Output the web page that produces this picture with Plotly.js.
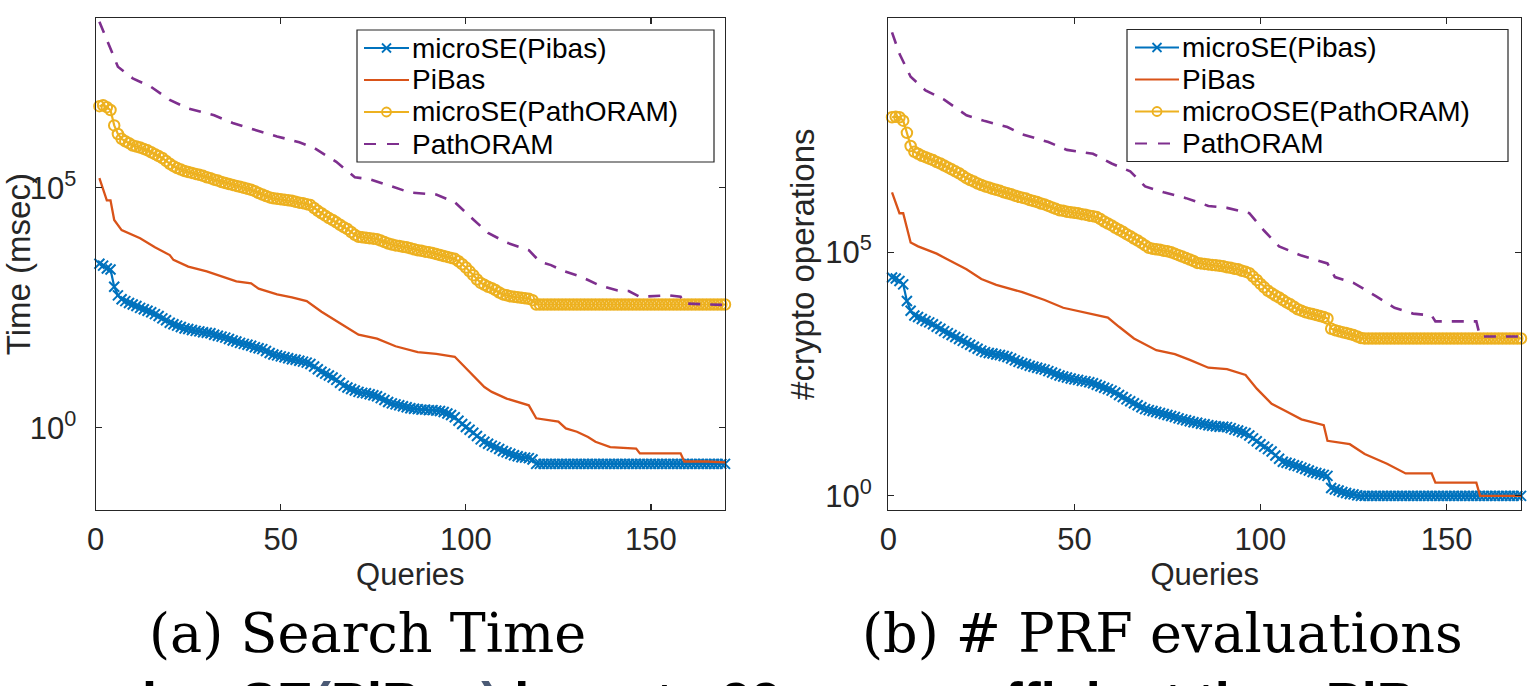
<!DOCTYPE html>
<html>
<head>
<meta charset="utf-8">
<script src="https://cdn.plot.ly/plotly-3.0.1.min.js"></script>
<style>
html,body{margin:0;padding:0;background:#ffffff;overflow:hidden;}
#chart{width:1532px;height:686px;}
</style>
</head>
<body>
<div id="chart"></div>
<script>
// ---------------- DATA ----------------
// Query index (x) for the per-query series
const queries = [
  1,2,3,4,5,6,7,8,9,10, 11,12,13,14,15,16,17,18,19,20,
  21,22,23,24,25,26,27,28,29,30, 31,32,33,34,35,36,37,38,39,40,
  41,42,43,44,45,46,47,48,49,50, 51,52,53,54,55,56,57,58,59,60,
  61,62,63,64,65,66,67,68,69,70, 71,72,73,74,75,76,77,78,79,80,
  81,82,83,84,85,86,87,88,89,90, 91,92,93,94,95,96,97,98,99,100,
  101,102,103,104,105,106,107,108,109,110, 111,112,113,114,115,116,117,118,119,120,
  121,122,123,124,125,126,127,128,129,130, 131,132,133,134,135,136,137,138,139,140,
  141,142,143,144,145,146,147,148,149,150, 151,152,153,154,155,156,157,158,159,160,
  161,162,163,164,165,166,167,168,169,170
];

// (a) Search time, values stored as log10(msec)
const timeMicroSEPibasLog10 = [
  3.42,3.38,3.32,3.30,2.94,2.76,2.68,2.64,2.60,2.57,
  2.54,2.50,2.47,2.44,2.41,2.37,2.33,2.28,2.24,2.19,
  2.16,2.13,2.10,2.07,2.06,2.04,2.02,2.01,1.99,1.98,
  1.97,1.94,1.92,1.90,1.88,1.85,1.82,1.80,1.77,1.75,
  1.73,1.71,1.68,1.66,1.64,1.60,1.56,1.53,1.51,1.49,
  1.47,1.45,1.43,1.42,1.40,1.38,1.36,1.33,1.28,1.22,
  1.17,1.13,1.09,1.05,1.00,0.94,0.88,0.84,0.81,0.78,
  0.75,0.73,0.72,0.70,0.68,0.66,0.62,0.58,0.54,0.51,
  0.49,0.47,0.45,0.43,0.41,0.40,0.39,0.38,0.38,0.37,
  0.37,0.36,0.35,0.33,0.30,0.27,0.22,0.15,0.08,0.02,
  -0.04,-0.10,-0.17,-0.24,-0.29,-0.33,-0.37,-0.40,-0.44,-0.48,
  -0.51,-0.54,-0.57,-0.59,-0.61,-0.62,-0.63,-0.66,-0.75,-0.75,
  -0.75,-0.75,-0.75,-0.75,-0.75,-0.75,-0.75,-0.75,-0.75,-0.75,
  -0.75,-0.75,-0.75,-0.75,-0.75,-0.75,-0.75,-0.75,-0.75,-0.75,
  -0.75,-0.75,-0.75,-0.75,-0.75,-0.75,-0.75,-0.75,-0.75,-0.75,
  -0.75,-0.75,-0.75,-0.75,-0.75,-0.75,-0.75,-0.75,-0.75,-0.75,
  -0.75,-0.75,-0.75,-0.75,-0.75,-0.75,-0.75,-0.75,-0.75,-0.75
];
const timeMicroSEPathORAMLog10 = [
  6.70,6.72,6.68,6.62,6.30,6.12,6.02,5.97,5.93,5.88,
  5.86,5.84,5.81,5.78,5.74,5.70,5.66,5.62,5.56,5.50,
  5.45,5.41,5.38,5.35,5.33,5.31,5.29,5.27,5.25,5.22,
  5.20,5.17,5.15,5.12,5.10,5.08,5.06,5.04,5.02,5.00,
  4.98,4.96,4.93,4.89,4.86,4.83,4.80,4.78,4.77,4.76,
  4.75,4.74,4.73,4.71,4.69,4.68,4.66,4.64,4.58,4.52,
  4.47,4.42,4.37,4.33,4.28,4.23,4.18,4.14,4.08,4.02,
  3.98,3.97,3.96,3.95,3.94,3.93,3.90,3.87,3.84,3.82,
  3.80,3.79,3.77,3.76,3.74,3.72,3.70,3.69,3.67,3.66,
  3.64,3.62,3.60,3.58,3.56,3.54,3.52,3.47,3.41,3.34,
  3.26,3.18,3.09,3.02,2.98,2.94,2.91,2.87,2.82,2.78,
  2.76,2.74,2.73,2.72,2.71,2.70,2.69,2.66,2.57,2.57,
  2.57,2.57,2.57,2.57,2.57,2.57,2.57,2.57,2.57,2.57,
  2.57,2.57,2.57,2.57,2.57,2.57,2.57,2.57,2.57,2.57,
  2.57,2.57,2.57,2.57,2.57,2.57,2.57,2.57,2.57,2.57,
  2.57,2.57,2.57,2.57,2.57,2.57,2.57,2.57,2.57,2.57,
  2.57,2.57,2.57,2.57,2.57,2.57,2.57,2.57,2.57,2.57
];
const timePiBasQueries = [1,3,4,5,7,12,16,20,21,25,30,34,38,42,44,49,53,57,61,66,71,76,81,87,92,97,98,102,105,107,111,117,119,125,127,130,133,135,139,146,147,158,159,165,170];
const timePiBasLog10 = [5.20,4.74,4.74,4.33,4.12,3.95,3.76,3.60,3.50,3.36,3.26,3.16,3.05,3.01,2.90,2.78,2.72,2.64,2.42,2.18,1.94,1.86,1.70,1.58,1.54,1.48,1.40,1.10,0.85,0.75,0.61,0.47,0.20,0.13,-0.01,-0.08,-0.19,-0.29,-0.40,-0.43,-0.53,-0.53,-0.70,-0.70,-0.72];
const timePathORAMQueries = [1,3,6,10,15,20,25,32,37,42,49,55,59,65,70,74,80,85,92,97,102,106,111,117,120,123,126,131,133,136,141,144,147,155,158,159,170];
const timePathORAMLog10 = [8.46,8.08,7.52,7.28,7.10,6.83,6.65,6.51,6.35,6.23,6.07,5.95,5.83,5.54,5.22,5.18,5.02,4.90,4.86,4.70,4.34,4.06,3.86,3.70,3.46,3.39,3.28,3.15,3.08,2.97,2.86,2.85,2.73,2.76,2.73,2.59,2.56];

// (b) # PRF evaluations, values stored as log10(#crypto operations)
const prfMicroSEPibasLog10 = [
  4.48,4.46,4.41,4.34,4.00,3.80,3.70,3.67,3.63,3.59,
  3.56,3.52,3.47,3.43,3.38,3.34,3.30,3.26,3.22,3.18,
  3.14,3.10,3.06,3.02,2.98,2.95,2.93,2.92,2.90,2.89,
  2.87,2.85,2.82,2.78,2.75,2.72,2.70,2.67,2.65,2.63,
  2.61,2.59,2.56,2.53,2.50,2.47,2.45,2.43,2.41,2.39,
  2.38,2.36,2.35,2.33,2.31,2.28,2.25,2.22,2.19,2.16,
  2.12,2.07,2.03,1.98,1.94,1.90,1.86,1.82,1.78,1.76,
  1.74,1.72,1.70,1.68,1.66,1.64,1.62,1.59,1.57,1.55,
  1.53,1.51,1.50,1.48,1.47,1.45,1.44,1.43,1.42,1.42,
  1.41,1.39,1.36,1.34,1.31,1.29,1.24,1.18,1.12,1.06,
  1.01,0.96,0.91,0.83,0.76,0.70,0.68,0.66,0.63,0.61,
  0.58,0.55,0.52,0.49,0.47,0.45,0.43,0.41,0.16,0.13,
  0.11,0.08,0.06,0.04,0.03,0.01,0,0,0,0,
  0,0,0,0,0,0,0,0,0,0,
  0,0,0,0,0,0,0,0,0,0,
  0,0,0,0,0,0,0,0,0,0,
  0,0,0,0,0,0,0,0,0,0
];
const prfMicroOSEPathORAMLog10 = [
  7.77,7.78,7.77,7.70,7.45,7.18,7.06,7.02,6.98,6.95,
  6.92,6.89,6.85,6.82,6.78,6.74,6.70,6.66,6.62,6.57,
  6.52,6.48,6.45,6.41,6.38,6.35,6.33,6.30,6.28,6.26,
  6.23,6.21,6.19,6.16,6.14,6.12,6.10,6.07,6.05,6.03,
  6.00,5.98,5.95,5.92,5.89,5.86,5.85,5.83,5.82,5.81,
  5.80,5.78,5.77,5.75,5.74,5.72,5.68,5.63,5.59,5.55,
  5.50,5.46,5.42,5.37,5.33,5.28,5.24,5.19,5.14,5.09,
  5.07,5.06,5.05,5.03,5.02,5.00,4.97,4.94,4.91,4.88,
  4.85,4.82,4.78,4.77,4.76,4.75,4.74,4.73,4.72,4.71,
  4.69,4.68,4.66,4.65,4.62,4.60,4.57,4.50,4.43,4.35,
  4.28,4.21,4.16,4.11,4.07,4.02,3.97,3.93,3.88,3.83,
  3.80,3.77,3.75,3.73,3.71,3.69,3.67,3.64,3.43,3.40,
  3.38,3.36,3.34,3.32,3.30,3.27,3.24,3.23,3.23,3.23,
  3.23,3.23,3.23,3.23,3.23,3.23,3.23,3.23,3.23,3.23,
  3.23,3.23,3.23,3.23,3.23,3.23,3.23,3.23,3.23,3.23,
  3.23,3.23,3.23,3.23,3.23,3.23,3.23,3.23,3.23,3.23,
  3.23,3.23,3.23,3.23,3.23,3.23,3.23,3.23,3.23,3.23
];
const prfPiBasQueries = [1,3,4,6,8,13,17,21,25,29,36,42,47,52,59,62,66,72,77,81,86,91,96,99,103,107,111,117,118,124,128,134,139,146,147,158,159,170];
const prfPiBasLog10 = [6.23,5.80,5.80,5.20,5.12,4.97,4.81,4.65,4.45,4.33,4.18,4.02,3.86,3.78,3.66,3.47,3.23,2.99,2.91,2.79,2.63,2.60,2.48,2.20,1.89,1.73,1.57,1.45,1.13,1.06,0.86,0.66,0.46,0.46,0.27,0.27,0,0];
const prfPathORAMQueries = [1,3,6,10,15,21,26,32,36,43,48,55,60,65,69,74,80,86,91,97,101,105,111,118,120,125,131,136,141,146,147,158,159,170];
const prfPathORAMLog10 = [9.51,9.07,8.60,8.32,8.13,7.81,7.69,7.57,7.42,7.26,7.10,7.02,6.82,6.66,6.35,6.23,6.11,5.95,5.91,5.80,5.44,5.12,4.93,4.77,4.49,4.37,4.10,3.86,3.74,3.70,3.58,3.58,3.27,3.27];

// Labels
const seriesNamesA = ['microSE(Pibas)', 'PiBas', 'microSE(PathORAM)', 'PathORAM'];
const seriesNamesB = ['microSE(Pibas)', 'PiBas', 'microOSE(PathORAM)', 'PathORAM'];
const xTickVals = [0, 50, 100, 150];
const xTickText = ['0', '50', '100', '150'];
const yTickVals = [1, 100000];
const yTickText = ['10<sup>0</sup>', '10<sup>5</sup>'];
const captionA = '(a) Search Time';
const captionB = '(b) # PRF evaluations';
const xTitle = 'Queries';
const yTitleA = 'Time (msec)';
const yTitleB = '#crypto operations';

// ---------------- STYLE ----------------
const W = 1532, H = 686;
const px = v => v / W;          // pixel -> paper x
const py = v => 1 - v / H;      // pixel -> paper y
const FONT = 'Liberation Sans, Arial, Helvetica, sans-serif';
const SERIF = 'DejaVu Serif, Liberation Serif, serif';
const C_BLUE = '#0072BD', C_ORANGE = '#D95319', C_YELLOW = '#EDB120', C_PURPLE = '#7E2F8E';
const AX = '#262626';
const toVal = arr => arr.map(v => Math.pow(10, v));   // log10 -> value

function makeTraces(xa, ya, blueY, pibasX, pibasY, yellowY, poX, poY, names) {
  return [
    {x: queries, y: toVal(blueY), xaxis: xa, yaxis: ya, name: names[0], type: 'scatter', mode: 'lines+markers',
     line: {color: C_BLUE, width: 2.2}, cliponaxis: false,
     marker: {symbol: 'x-thin', size: 10, color: C_BLUE, line: {color: C_BLUE, width: 2}}},
    {x: pibasX, y: toVal(pibasY), xaxis: xa, yaxis: ya, name: names[1], type: 'scatter', mode: 'lines',
     line: {color: C_ORANGE, width: 2.3}, cliponaxis: false},
    {x: queries, y: toVal(yellowY), xaxis: xa, yaxis: ya, name: names[2], type: 'scatter', mode: 'lines+markers',
     line: {color: C_YELLOW, width: 2.2}, cliponaxis: false,
     marker: {symbol: 'circle-open', size: 10.5, color: C_YELLOW, line: {color: C_YELLOW, width: 2}}},
    {x: poX, y: toVal(poY), xaxis: xa, yaxis: ya, name: names[3], type: 'scatter', mode: 'lines',
     line: {color: C_PURPLE, width: 2.6, dash: '12px,10px'}, cliponaxis: false}
  ];
}

const data = [].concat(
  makeTraces('x', 'y', timeMicroSEPibasLog10, timePiBasQueries, timePiBasLog10,
             timeMicroSEPathORAMLog10, timePathORAMQueries, timePathORAMLog10, seriesNamesA),
  makeTraces('x2', 'y2', prfMicroSEPibasLog10, prfPiBasQueries, prfPiBasLog10,
             prfMicroOSEPathORAMLog10, prfPathORAMQueries, prfPathORAMLog10, seriesNamesB)
);

const axisBase = {
  showline: true, linecolor: AX, linewidth: 1.2, mirror: 'allticks',
  ticks: 'inside', ticklen: 6, tickwidth: 1.2, tickcolor: AX,
  showgrid: false, zeroline: false, automargin: false, fixedrange: true,
  tickfont: {family: FONT, size: 31, color: AX}
};
const xTitleFont = {family: FONT, size: 31, color: AX};
const yTitleFont = {family: FONT, size: 33, color: AX};

const yDomain = [py(510), py(18.3)];
const layout = {
  width: W, height: H,
  margin: {l: 0, r: 0, t: 0, b: 0, pad: 0},
  paper_bgcolor: '#ffffff', plot_bgcolor: '#ffffff',
  showlegend: false,
  font: {family: FONT, color: AX},
  xaxis: Object.assign({}, axisBase, {
    domain: [px(95.7), px(725)], range: [0, 170], anchor: 'y',
    tickmode: 'array', tickvals: xTickVals, ticktext: xTickText, ticklabelstandoff: 2,
    title: {text: xTitle, font: xTitleFont, standoff: 0}
  }),
  yaxis: Object.assign({}, axisBase, {
    domain: yDomain, type: 'log', range: [-1.71, 8.53], anchor: 'x',
    tickmode: 'array', tickvals: yTickVals, ticktext: yTickText, ticklabelstandoff: 12,
    title: {text: yTitleA, font: yTitleFont, standoff: 5}
  }),
  xaxis2: Object.assign({}, axisBase, {
    domain: [px(888.3), px(1521)], range: [0, 170], anchor: 'y2',
    tickmode: 'array', tickvals: xTickVals, ticktext: xTickText, ticklabelstandoff: 2,
    title: {text: xTitle, font: xTitleFont, standoff: 0}
  }),
  yaxis2: Object.assign({}, axisBase, {
    domain: yDomain, type: 'log', range: [-0.29, 9.80], anchor: 'x2',
    tickmode: 'array', tickvals: yTickVals, ticktext: yTickText, ticklabelstandoff: 9,
    title: {text: yTitleB, font: yTitleFont, standoff: 0}
  }),
  shapes: [],
  annotations: []
};

// ---------------- Legends (MATLAB-style boxes) ----------------
function addLegend(box, sampleX0, sampleX1, textX, rowsY, names) {
  layout.shapes.push({type: 'rect', xref: 'paper', yref: 'paper', layer: 'above',
    x0: px(box[0]), x1: px(box[2]), y0: py(box[3]), y1: py(box[1]),
    line: {color: AX, width: 1.2}, fillcolor: '#ffffff'});
  const styles = [
    {color: C_BLUE, dash: 'solid', marker: 'x'},
    {color: C_ORANGE, dash: 'solid', marker: null},
    {color: C_YELLOW, dash: 'solid', marker: 'o'},
    {color: C_PURPLE, dash: '12px,11px', marker: null}
  ];
  const mx = (sampleX0 + sampleX1) / 2;
  rowsY.forEach((ry, i) => {
    const s = styles[i];
    layout.shapes.push({type: 'line', xref: 'paper', yref: 'paper', layer: 'above',
      x0: px(sampleX0), x1: px(sampleX1), y0: py(ry), y1: py(ry),
      line: {color: s.color, width: 2.2, dash: s.dash}});
    if (s.marker === 'x') {
      layout.shapes.push({type: 'line', xref: 'paper', yref: 'paper', layer: 'above',
        x0: px(mx - 4.5), x1: px(mx + 4.5), y0: py(ry - 4.5), y1: py(ry + 4.5), line: {color: s.color, width: 1.8}});
      layout.shapes.push({type: 'line', xref: 'paper', yref: 'paper', layer: 'above',
        x0: px(mx - 4.5), x1: px(mx + 4.5), y0: py(ry + 4.5), y1: py(ry - 4.5), line: {color: s.color, width: 1.8}});
    } else if (s.marker === 'o') {
      layout.shapes.push({type: 'circle', xref: 'paper', yref: 'paper', layer: 'above',
        x0: px(mx - 4.5), x1: px(mx + 4.5), y0: py(ry + 4.5), y1: py(ry - 4.5), line: {color: s.color, width: 1.8}});
    }
    layout.annotations.push({xref: 'paper', yref: 'paper', x: px(textX), y: py(ry),
      xanchor: 'left', yanchor: 'middle', showarrow: false, text: names[i], borderpad: 0,
      font: {family: FONT, size: 28, color: '#000000'}});
  });
}
addLegend([357, 30, 714, 162], 364, 409, 411, [48, 80, 112, 144], seriesNamesA);
addLegend([1127, 29.5, 1508, 161.5], 1135, 1179, 1181, [47.5, 79.5, 111.5, 143.5], seriesNamesB);

// ---------------- Captions ----------------
layout.annotations.push({xref: 'paper', yref: 'paper', x: px(367), y: py(633), xanchor: 'center', yanchor: 'middle',
  showarrow: false, text: captionA, font: {family: SERIF, size: 54, color: '#000000'}});
layout.annotations.push({xref: 'paper', yref: 'paper', x: px(1162), y: py(633), xanchor: 'center', yanchor: 'middle',
  showarrow: false, text: captionB, font: {family: SERIF, size: 54, color: '#000000'}});
// Next line of the page, cut off by the bottom of the screenshot
layout.annotations.push({xref: 'paper', yref: 'paper', x: px(92), y: py(701), xanchor: 'left', yanchor: 'middle',
  showarrow: false,
  text: '<b>microSE<span style="color:#4b5a75">(</span>PiBas<span style="color:#4b5a75">)</span> is up to 99× more efficient than PiBas</b>',
  font: {family: FONT, size: 54, color: '#000000'}});

Plotly.newPlot('chart', data, layout, {staticPlot: true, displayModeBar: false});
</script>
</body>
</html>
